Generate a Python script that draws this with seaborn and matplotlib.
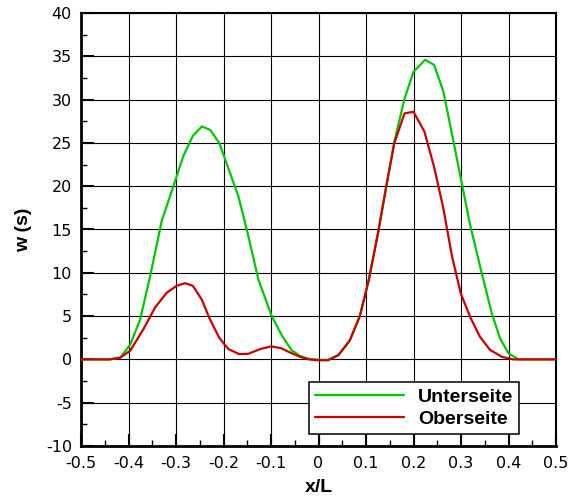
import matplotlib
matplotlib.use("Agg")
import matplotlib.pyplot as plt
import seaborn as sns
import pandas as pd
import numpy as np
from matplotlib.ticker import MultipleLocator

# ---- data ----
x_unter = [-0.50, -0.44, -0.4175, -0.3965, -0.3755, -0.3545, -0.330, -0.3055, -0.2845,
           -0.2646, -0.2457, -0.228, -0.209, -0.190, -0.1685, -0.1475, -0.1265, -0.0985,
           -0.0765, -0.057, -0.039, -0.020, 0.000, 0.020, 0.042, 0.066, 0.087, 0.106,
           0.126, 0.143, 0.160, 0.181, 0.200, 0.2246, 0.2435, 0.263, 0.2807, 0.2996,
           0.3193, 0.3439, 0.3649, 0.3825, 0.400, 0.421, 0.44, 0.50]
w_unter = [0.0, 0.0, 0.2, 1.7, 4.6, 9.6, 16.0, 20.0, 23.5,
           25.8, 26.9, 26.5, 25.0, 22.1, 18.8, 14.2, 9.2, 5.0,
           2.7, 1.08, 0.4, 0.05, -0.05, -0.05, 0.5, 2.2, 5.0, 9.2,
           14.8, 20.1, 25.2, 30.1, 33.2, 34.6, 34.0, 30.9, 26.1, 20.9,
           15.5, 9.9, 5.3, 2.4, 0.7, 0.0, 0.0, 0.0]

x_ober = [-0.50, -0.44, -0.4175, -0.3965, -0.3685, -0.344, -0.3195, -0.2985, -0.281,
          -0.2646, -0.2457, -0.230, -0.209, -0.190, -0.1665, -0.1475, -0.1225, -0.100,
          -0.079, -0.060, -0.039, -0.020, 0.000, 0.020, 0.042, 0.066, 0.087, 0.106,
          0.126, 0.143, 0.1593, 0.181, 0.200, 0.223, 0.2435, 0.263, 0.2807, 0.2996,
          0.3193, 0.340, 0.361, 0.386, 0.410, 0.50]
w_ober = [0.0, 0.0, 0.2, 1.0, 3.5, 6.0, 7.7, 8.5, 8.8,
          8.5, 6.9, 4.8, 2.5, 1.2, 0.6, 0.65, 1.2, 1.5,
          1.3, 0.8, 0.3, 0.0, -0.1, -0.1, 0.5, 2.2, 5.0, 9.2,
          14.8, 20.1, 24.9, 28.4, 28.6, 26.3, 22.2, 17.4, 12.0, 7.6,
          4.9, 2.6, 1.1, 0.3, 0.0, 0.0]

series_names = ["Unterseite", "Oberseite"]
series_colors = ["#00C800", "#CC0000"]
x_ticks = [-0.5, -0.4, -0.3, -0.2, -0.1, 0, 0.1, 0.2, 0.3, 0.4, 0.5]
x_ticklabels = ["-0.5", "-0.4", "-0.3", "-0.2", "-0.1", "0", "0.1", "0.2", "0.3", "0.4", "0.5"]
y_ticks = [-10, -5, 0, 5, 10, 15, 20, 25, 30, 35, 40]

df = pd.concat([
    pd.DataFrame({"x/L": x_unter, "w": w_unter, "Seite": series_names[0]}),
    pd.DataFrame({"x/L": x_ober, "w": w_ober, "Seite": series_names[1]}),
], ignore_index=True)

sns.set_style("white")
plt.rcParams["font.family"] = ["DejaVu Sans"]
plt.rcParams["axes.unicode_minus"] = False
plt.rcParams["text.color"] = "black"
plt.rcParams["axes.labelcolor"] = "black"
plt.rcParams["xtick.color"] = "black"
plt.rcParams["ytick.color"] = "black"

fig = plt.figure(figsize=(5.78, 4.99), dpi=100)
ax = fig.add_axes([81 / 578, 53 / 499, 475 / 578, 433 / 499])

sns.lineplot(data=df, x="x/L", y="w", hue="Seite", hue_order=series_names,
             palette=dict(zip(series_names, series_colors)), estimator=None,
             sort=False, linewidth=1.6, ax=ax, legend=False, zorder=3)

ax.set_xlim(-0.5, 0.5)
ax.set_ylim(-10, 40)
ax.set_xticks(x_ticks)
ax.set_xticklabels(x_ticklabels)
ax.set_yticks(y_ticks)
ax.xaxis.set_minor_locator(MultipleLocator(0.05))
ax.yaxis.set_minor_locator(MultipleLocator(2.5))
ax.grid(True, which="major", color="black", linewidth=0.8, zorder=1)
ax.set_axisbelow(True)

ax.tick_params(which="major", direction="in", length=9, width=1.5, labelsize=11.5,
               colors="black", labelcolor="black", bottom=True, left=True, top=False, right=False)
ax.tick_params(axis="x", which="major", pad=7)
ax.tick_params(axis="y", which="major", pad=6.5)
ax.tick_params(which="minor", direction="in", length=4.5, width=1.0, colors="black",
               bottom=True, left=True, top=False, right=False)

for side, lw in [("left", 2.0), ("bottom", 2.0), ("top", 1.5), ("right", 1.5)]:
    ax.spines[side].set_linewidth(lw)
    ax.spines[side].set_color("black")
    ax.spines[side].set_visible(True)

ax.set_xlabel("x/L", fontsize=14, fontweight="bold", family="Liberation Sans",
              labelpad=6, color="black")
ax.set_ylabel("w (s)", fontsize=14, fontweight="bold", family="Liberation Sans",
              labelpad=10, color="black")

handles = [plt.Line2D([], [], color=c, linewidth=1.6) for c in series_colors]
leg = ax.legend(handles, series_names, loc="lower left", bbox_to_anchor=(0.48, 0.0277),
                borderaxespad=0, fancybox=False, framealpha=1, edgecolor="black",
                handlelength=4.6, handletextpad=0.72, borderpad=0.3, labelspacing=0.25,
                prop={"family": "Liberation Sans", "weight": "bold", "size": 14})
leg.get_frame().set_linewidth(1.1)
for t in leg.get_texts():
    t.set_color("black")
leg.set_zorder(5)

fig.savefig("out.png", dpi=100)
